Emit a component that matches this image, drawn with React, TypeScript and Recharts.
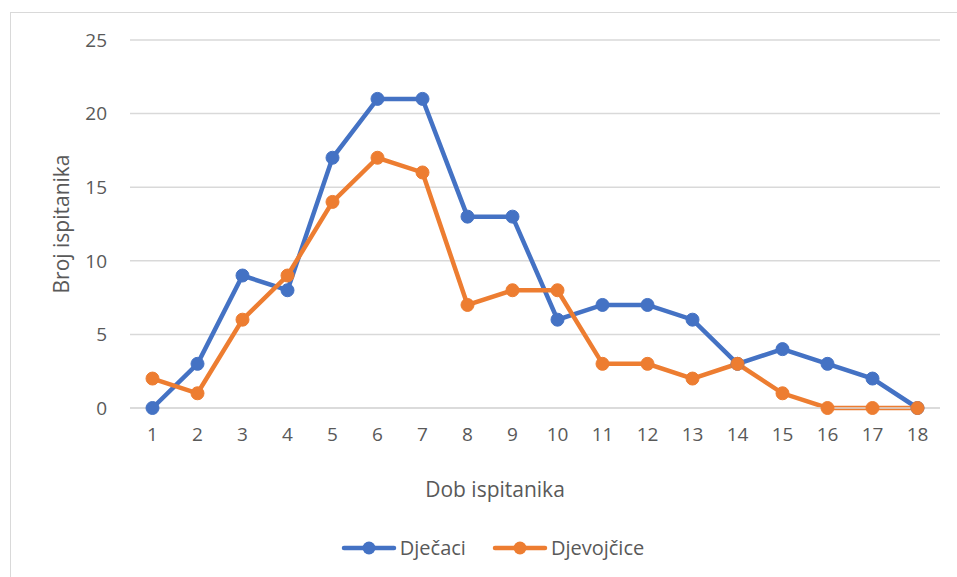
import { LineChart, Line, XAxis, YAxis, CartesianGrid, Legend } from 'recharts'

const ages = ['1', '2', '3', '4', '5', '6', '7', '8', '9', '10', '11', '12', '13', '14', '15', '16', '17', '18']
const djecaci = [0, 3, 9, 8, 17, 21, 21, 13, 13, 6, 7, 7, 6, 3, 4, 3, 2, 0]
const djevojcice = [2, 1, 6, 9, 14, 17, 16, 7, 8, 8, 3, 3, 2, 3, 1, 0, 0, 0]
const yTicks = [0, 5, 10, 15, 20, 25]

const BLUE = '#4472C4'
const ORANGE = '#ED7D31'
const TEXT = '#595959'
const GRID = '#D9D9D9'
const FONT = '"Open Sans", "Noto Sans", sans-serif'

const data = ages.map((a, i) => ({ dob: a, djecaci: djecaci[i], djevojcice: djevojcice[i] }))

function LegendIcon({ color }: { color: string }) {
  return (
    <svg width={56} height={16} style={{ display: 'block' }}>
      <line x1={3} y1={8} x2={53} y2={8} stroke={color} strokeWidth={4.5} strokeLinecap="round" />
      <circle cx={28} cy={8} r={6.5} fill={color} />
    </svg>
  )
}

function renderLegend() {
  const items = [
    { label: 'Dječaci', color: BLUE },
    { label: 'Djevojčice', color: ORANGE },
  ]
  return (
    <div style={{ display: 'flex', justifyContent: 'center', gap: 26, paddingLeft: 28 }}>
      {items.map((it) => (
        <div key={it.label} style={{ display: 'flex', alignItems: 'center', gap: 3 }}>
          <LegendIcon color={it.color} />
          <span style={{ fontFamily: FONT, fontSize: 20, color: TEXT }}>{it.label}</span>
        </div>
      ))}
    </div>
  )
}

export default function App() {
  return (
    <div style={{ position: 'fixed', left: 0, top: 0, width: 957, height: 577, overflow: 'hidden', background: '#fff' }}>
      <div
        style={{
          position: 'absolute',
          left: 10,
          top: 12,
          width: 1000,
          height: 600,
          border: '1.5px solid #D9D9D9',
        }}
      />
      <div style={{ position: 'absolute', left: 0, top: 0 }}>
        <LineChart width={957} height={577} data={data} margin={{ top: 40, right: 17, left: 0, bottom: 69 }}>
          <CartesianGrid vertical={false} stroke={GRID} strokeWidth={1.5} />
          <XAxis
            dataKey="dob"
            height={100}
            padding={{ left: 22.5, right: 22.5 }}
            tickSize={0}
            tickMargin={20}
            axisLine={{ stroke: GRID, strokeWidth: 1.5 }}
            tickLine={false}
            tick={{ fill: TEXT, fontSize: 19, fontFamily: FONT }}
            interval={0}
            label={{ value: 'Dob ispitanika', position: 'center', dx: -40, dy: 32, fill: TEXT, fontSize: 21, fontFamily: FONT }}
          />
          <YAxis
            width={130}
            domain={[0, 25]}
            ticks={yTicks}
            tickSize={0}
            tickMargin={23}
            axisLine={false}
            tickLine={false}
            tick={{ fill: TEXT, fontSize: 19, fontFamily: FONT }}
            label={{ value: 'Broj ispitanika', angle: -90, position: 'center', dx: -3, fill: TEXT, fontSize: 21, fontFamily: FONT }}
          />
          <Legend
            layout="horizontal"
            verticalAlign="middle"
            content={renderLegend}
            wrapperStyle={{ top: 534, left: 0, width: 957 }}
          />
          <Line
            type="linear"
            dataKey="djecaci"
            name="Dječaci"
            stroke={BLUE}
            strokeWidth={4.5}
            dot={{ r: 6.5, fill: BLUE, stroke: BLUE, strokeWidth: 1 }}
            activeDot={false}
            isAnimationActive={false}
          />
          <Line
            type="linear"
            dataKey="djevojcice"
            name="Djevojčice"
            stroke={ORANGE}
            strokeWidth={4.5}
            dot={{ r: 6.5, fill: ORANGE, stroke: ORANGE, strokeWidth: 1 }}
            activeDot={false}
            isAnimationActive={false}
          />
        </LineChart>
      </div>
    </div>
  )
}
